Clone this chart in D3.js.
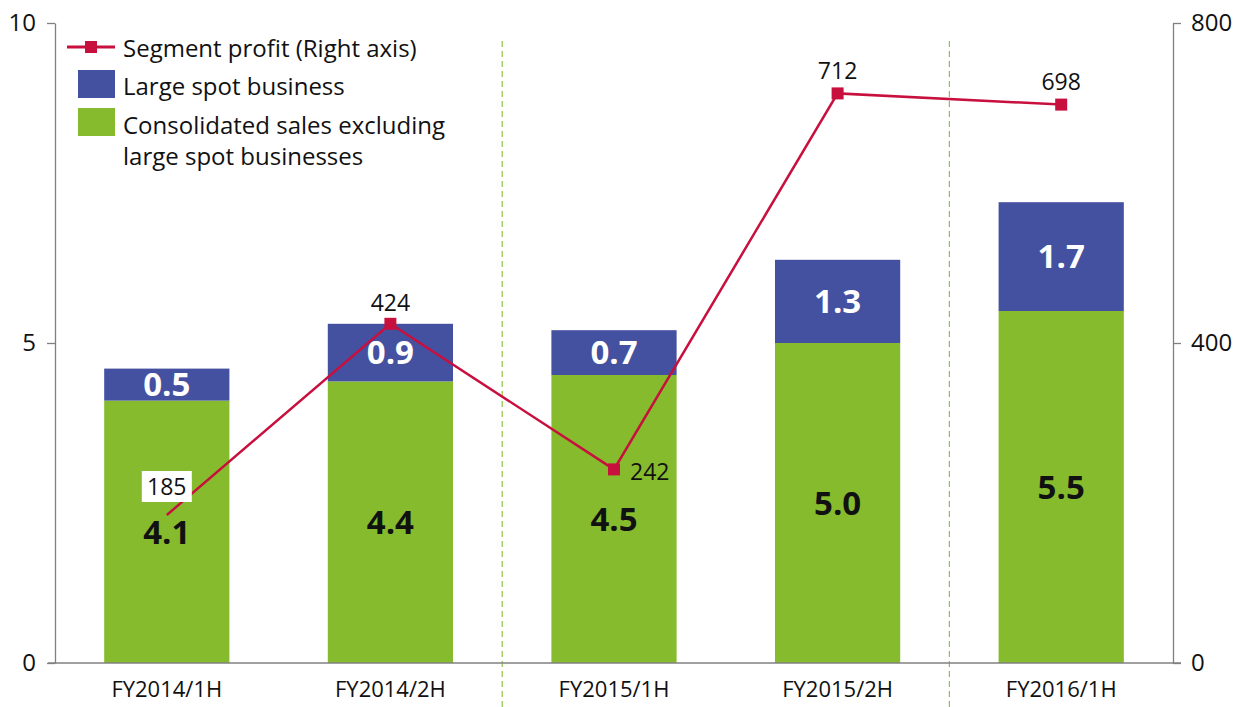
<!DOCTYPE html>
<html>
<head>
<meta charset="utf-8">
<script src="https://cdn.jsdelivr.net/npm/d3@7"></script>
<style>
  body { margin: 0; background: #fff; }
  svg text { font-family: "Open Sans", "Noto Sans", sans-serif; }
</style>
</head>
<body>
<svg id="chart" width="1247" height="707"></svg>
<script>
const periods = ["FY2014/1H", "FY2014/2H", "FY2015/1H", "FY2015/2H", "FY2016/1H"];
const baseSales = [4.1, 4.4, 4.5, 5.0, 5.5];
const spotSales = [0.5, 0.9, 0.7, 1.3, 1.7];
const profit = [185, 424, 242, 712, 698];
const leftTicks = [0, 5, 10];
const rightTicks = [0, 400, 800];
const dividers = [2, 4]; // dashed lines before these bars

const GREEN = "#86bb2e", BLUE = "#4450a0", RED = "#c8103e", AXIS = "#808080";

const svg = d3.select("#chart");
const margin = { left: 55, right: 74, top: 23, bottom: 44 };
const width = 1247 - margin.left - margin.right;
const height = 707 - margin.top - margin.bottom;
const g = svg.append("g").attr("transform", `translate(${margin.left},${margin.top})`);

const x = d3.scaleBand().domain(periods).range([0, width]).paddingInner(0.44).paddingOuter(0.22);
const y = d3.scaleLinear().domain([0, 10]).range([height, 0]);
const y2 = d3.scaleLinear().domain([0, 800]).range([height, 0]);

const data = periods.map((p, i) => ({ p, base: baseSales[i], spot: spotSales[i], profit: profit[i] }));

// dashed dividers
const step = x.step();
g.selectAll(".divider").data(dividers).enter().append("line")
  .attr("x1", d => x(periods[d]) - step * x.paddingInner() / 2)
  .attr("x2", d => x(periods[d]) - step * x.paddingInner() / 2)
  .attr("y1", 18).attr("y2", 707 - margin.top)
  .attr("stroke", "#8cc63f").attr("stroke-width", 1.2).attr("stroke-dasharray", "6,4");

// bars
g.selectAll(".base").data(data).enter().append("rect")
  .attr("x", d => x(d.p)).attr("width", x.bandwidth())
  .attr("y", d => y(d.base)).attr("height", d => y(0) - y(d.base))
  .attr("fill", GREEN);
g.selectAll(".spot").data(data).enter().append("rect")
  .attr("x", d => x(d.p)).attr("width", x.bandwidth())
  .attr("y", d => y(d.base + d.spot)).attr("height", d => y(d.base) - y(d.base + d.spot))
  .attr("fill", BLUE);

// axes
const axL = g.append("g").call(d3.axisLeft(y).tickValues(leftTicks).tickSize(8).tickSizeOuter(0));
const axR = g.append("g").attr("transform", `translate(${width},0)`)
  .call(d3.axisRight(y2).tickValues(rightTicks).tickSize(8).tickSizeOuter(0));
const axB = g.append("g").attr("transform", `translate(0,${height})`)
  .call(d3.axisBottom(x).tickSize(0).tickSizeOuter(0));
[axL, axR, axB].forEach(a => {
  a.attr("font-family", null).attr("font-size", null);
  a.selectAll("path").attr("stroke", AXIS).attr("stroke-width", 1.3);
  a.selectAll("line").attr("stroke", AXIS).attr("stroke-width", 1.3);
  a.selectAll("text").attr("fill", "#111").style("font-size", "24px");
});
axL.selectAll("text").attr("x", -19);
axR.selectAll("text").attr("x", 18);
axB.selectAll("text").style("font-size", "22px").attr("y", 18);
axB.select("path").attr("d", `M-7,0H${width + 8}`);

// bar value labels
g.selectAll(".lbBase").data(data).enter().append("text")
  .attr("x", d => x(d.p) + x.bandwidth() / 2)
  .attr("y", d => (y(d.base) + y(0)) / 2)
  .attr("text-anchor", "middle").attr("dy", "0.36em")
  .style("font-size", "33px").style("font-weight", "bold").attr("fill", "#111")
  .text(d => d.base.toFixed(1));
g.selectAll(".lbSpot").data(data).enter().append("text")
  .attr("x", d => x(d.p) + x.bandwidth() / 2)
  .attr("y", d => (y(d.base + d.spot) + y(d.base)) / 2)
  .attr("text-anchor", "middle").attr("dy", "0.36em")
  .style("font-size", "33px").style("font-weight", "bold").attr("fill", "#fff")
  .text(d => d.spot.toFixed(1));

// profit line
const cx = d => x(d.p) + x.bandwidth() / 2;
const line = d3.line().x(cx).y(d => y2(d.profit));
g.append("path").datum(data).attr("d", line)
  .attr("fill", "none").attr("stroke", RED).attr("stroke-width", 2.5);
g.selectAll(".mk").data(data.slice(1)).enter().append("rect")
  .attr("x", d => cx(d) - 6).attr("y", d => y2(d.profit) - 6)
  .attr("width", 12).attr("height", 12).attr("fill", RED);

// profit labels
const offs = [
  { dx: 0, dy: -28, anchor: "middle", box: true },
  { dx: 0, dy: -21, anchor: "middle" },
  { dx: 16, dy: 2, anchor: "start" },
  { dx: 0, dy: -23, anchor: "middle" },
  { dx: 0, dy: -23, anchor: "middle" }
];
data.forEach((d, i) => {
  const o = offs[i];
  const tx = cx(d) + o.dx, ty = y2(d.profit) + o.dy;
  if (o.box) {
    g.append("rect").attr("x", tx - 25).attr("y", ty - 16).attr("width", 50).attr("height", 31).attr("fill", "#fff");
  }
  g.append("text").attr("x", tx).attr("y", ty).attr("dy", "0.36em")
    .attr("text-anchor", o.anchor).style("font-size", "23px").attr("fill", "#111")
    .text(d.profit);
});

// legend
const lg = svg.append("g");
lg.append("line").attr("x1", 67).attr("x2", 115).attr("y1", 47).attr("y2", 47)
  .attr("stroke", RED).attr("stroke-width", 3);
lg.append("rect").attr("x", 85).attr("y", 41).attr("width", 12).attr("height", 12).attr("fill", RED);
lg.append("rect").attr("x", 78).attr("y", 70).attr("width", 37).attr("height", 28).attr("fill", BLUE);
lg.append("rect").attr("x", 78).attr("y", 108).attr("width", 37).attr("height", 28).attr("fill", GREEN);
const legendText = [
  ["Segment profit (Right axis)", 48],
  ["Large spot business", 86],
  ["Consolidated sales excluding", 125],
  ["large spot businesses", 156]
];
lg.selectAll("text").data(legendText).enter().append("text")
  .attr("x", 123).attr("y", d => d[1]).attr("dy", "0.36em")
  .style("font-size", "24px").attr("fill", "#111").text(d => d[0]);
</script>
</body>
</html>
